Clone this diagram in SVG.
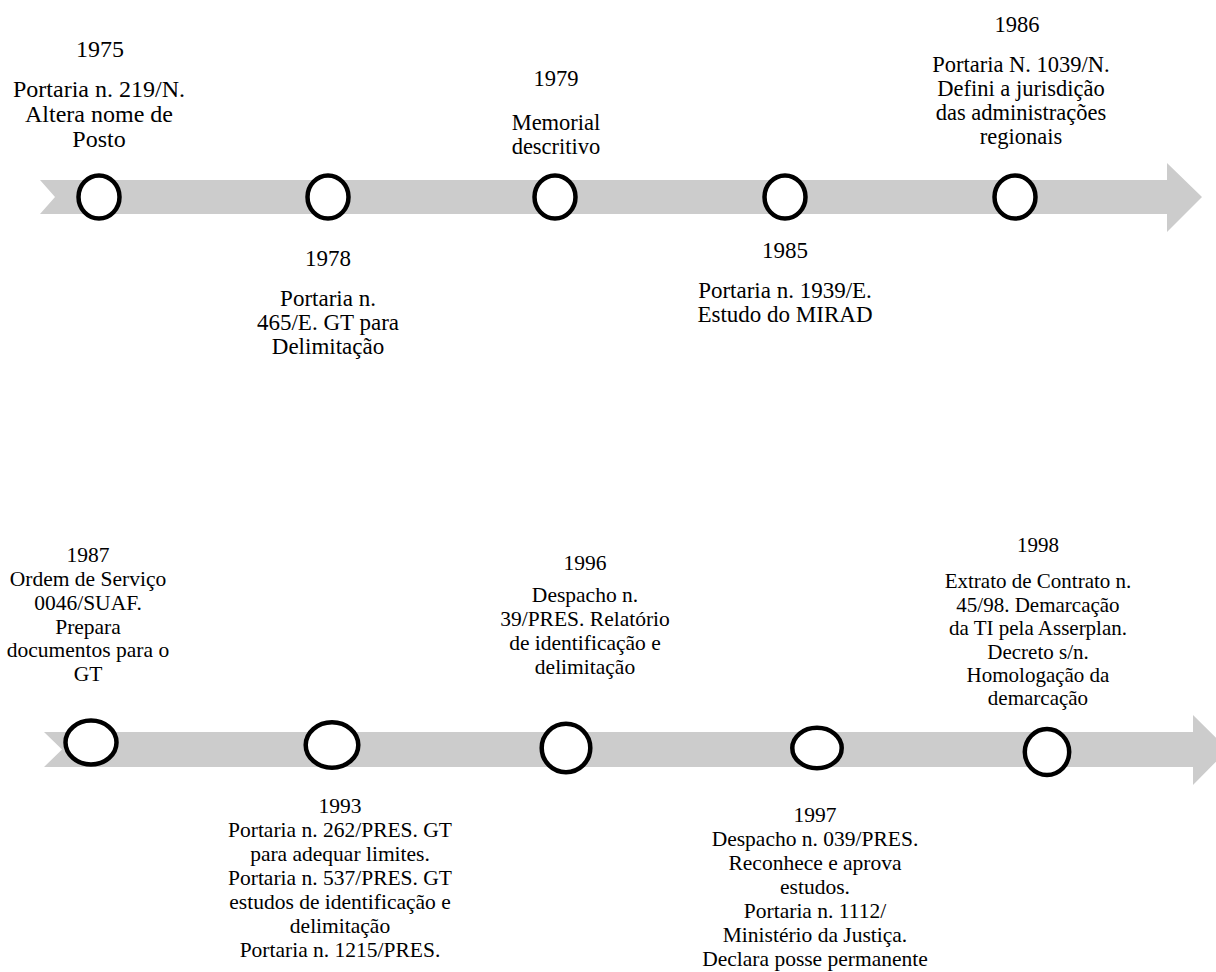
<svg xmlns="http://www.w3.org/2000/svg" width="1216" height="972" viewBox="0 0 1216 972">
<style>
.band{fill:#cccccc;stroke:none}
.node ellipse{fill:#ffffff;stroke:#000000;stroke-width:4.5}
text{fill:#000000;text-anchor:middle}
</style>
<rect width="1216" height="972" fill="#ffffff"/>
<g id="connectors">
<path class="band" d="M40,180 L1167,180 L1167,163 L1202,197 L1167,232 L1167,214 L40,214 L55,197 Z"/>
<path class="band" d="M44,732 L1193,732 L1193,715 L1228,749.5 L1193,785 L1193,767 L44,767 L62,749.5 Z"/>
</g>
<g id="n1975" class="node">
<ellipse cx="99" cy="197" rx="20.5" ry="21.5"/>
<text font-size="24" font-family="Liberation Serif" x="100" y="57">1975</text>
<text font-size="24" font-family="Liberation Serif" x="99" y="97">Portaria n. 219/N.</text>
<text font-size="24" font-family="Liberation Serif" x="99" y="122">Altera nome de</text>
<text font-size="24" font-family="Liberation Serif" x="99" y="147">Posto</text>
</g>
<g id="n1978" class="node">
<ellipse cx="328" cy="197" rx="20.5" ry="21.5"/>
<text font-size="23" font-family="Liberation Serif" x="328" y="266">1978</text>
<text font-size="23" font-family="Liberation Serif" x="328" y="306">Portaria n.</text>
<text font-size="23" font-family="Liberation Serif" x="328" y="330">465/E. GT para</text>
<text font-size="23" font-family="Liberation Serif" x="328" y="354">Delimitação</text>
</g>
<g id="n1979" class="node">
<ellipse cx="555" cy="197" rx="20.5" ry="21.5"/>
<text font-size="22.5" font-family="Liberation Serif" x="556" y="86">1979</text>
<text font-size="22.5" font-family="Liberation Serif" x="556" y="130">Memorial</text>
<text font-size="22.5" font-family="Liberation Serif" x="556" y="154">descritivo</text>
</g>
<g id="n1985" class="node">
<ellipse cx="785" cy="197" rx="20.5" ry="21.5"/>
<text font-size="23" font-family="Liberation Serif" x="785" y="258">1985</text>
<text font-size="23" font-family="Liberation Serif" x="785" y="298">Portaria n. 1939/E.</text>
<text font-size="23" font-family="Liberation Serif" x="785" y="322">Estudo do MIRAD</text>
</g>
<g id="n1986" class="node">
<ellipse cx="1015" cy="197" rx="20.5" ry="21.5"/>
<text font-size="22.5" font-family="Liberation Serif" x="1017" y="32">1986</text>
<text font-size="22.5" font-family="Liberation Serif" x="1021" y="72">Portaria N. 1039/N.</text>
<text font-size="22.5" font-family="Liberation Serif" x="1021" y="96">Defini a jurisdição</text>
<text font-size="22.5" font-family="Liberation Serif" x="1021" y="120">das administrações</text>
<text font-size="22.5" font-family="Liberation Serif" x="1021" y="144">regionais</text>
</g>
<g id="n1987" class="node">
<ellipse cx="91" cy="742.5" rx="25.5" ry="22"/>
<text font-size="21.5" font-family="Liberation Serif" x="88" y="562">1987</text>
<text font-size="21.5" font-family="Liberation Serif" x="88" y="586">Ordem de Serviço</text>
<text font-size="21.5" font-family="Liberation Serif" x="88" y="610">0046/SUAF.</text>
<text font-size="21.5" font-family="Liberation Serif" x="88" y="634">Prepara</text>
<text font-size="21.5" font-family="Liberation Serif" x="88" y="657">documentos para o</text>
<text font-size="21.5" font-family="Liberation Serif" x="88" y="681">GT</text>
</g>
<g id="n1993" class="node">
<ellipse cx="332" cy="745" rx="26.3" ry="22.7"/>
<text font-size="21.5" font-family="Liberation Serif" x="340" y="813">1993</text>
<text font-size="21.5" font-family="Liberation Serif" x="340" y="837">Portaria n. 262/PRES. GT</text>
<text font-size="21.5" font-family="Liberation Serif" x="340" y="861">para adequar limites.</text>
<text font-size="21.5" font-family="Liberation Serif" x="340" y="885">Portaria n. 537/PRES. GT</text>
<text font-size="21.5" font-family="Liberation Serif" x="340" y="909">estudos de identificação e</text>
<text font-size="21.5" font-family="Liberation Serif" x="340" y="933">delimitação</text>
<text font-size="21.5" font-family="Liberation Serif" x="340" y="957">Portaria n. 1215/PRES.</text>
</g>
<g id="n1996" class="node">
<ellipse cx="566" cy="748" rx="24.3" ry="24.2"/>
<text font-size="21.5" font-family="Liberation Serif" x="585" y="570">1996</text>
<text font-size="21.5" font-family="Liberation Serif" x="585" y="602">Despacho n.</text>
<text font-size="21.5" font-family="Liberation Serif" x="585" y="626">39/PRES. Relatório</text>
<text font-size="21.5" font-family="Liberation Serif" x="585" y="650">de identificação e</text>
<text font-size="21.5" font-family="Liberation Serif" x="585" y="674">delimitação</text>
</g>
<g id="n1997" class="node">
<ellipse cx="817" cy="748" rx="24.7" ry="20.3"/>
<text font-size="21.5" font-family="Liberation Serif" x="815" y="822">1997</text>
<text font-size="21.5" font-family="Liberation Serif" x="815" y="846">Despacho n. 039/PRES.</text>
<text font-size="21.5" font-family="Liberation Serif" x="815" y="870">Reconhece e aprova</text>
<text font-size="21.5" font-family="Liberation Serif" x="815" y="894">estudos.</text>
<text font-size="21.5" font-family="Liberation Serif" x="815" y="918">Portaria n. 1112/</text>
<text font-size="21.5" font-family="Liberation Serif" x="815" y="942">Ministério da Justiça.</text>
<text font-size="21.5" font-family="Liberation Serif" x="815" y="966">Declara posse permanente</text>
</g>
<g id="n1998" class="node">
<ellipse cx="1047" cy="752" rx="22.2" ry="23"/>
<text font-size="21" font-family="Liberation Serif" x="1038" y="552">1998</text>
<text font-size="21" font-family="Liberation Serif" x="1038" y="588">Extrato de Contrato n.</text>
<text font-size="21" font-family="Liberation Serif" x="1038" y="612">45/98. Demarcação</text>
<text font-size="21" font-family="Liberation Serif" x="1038" y="635">da TI pela Asserplan.</text>
<text font-size="21" font-family="Liberation Serif" x="1038" y="659">Decreto s/n.</text>
<text font-size="21" font-family="Liberation Serif" x="1038" y="682">Homologação da</text>
<text font-size="21" font-family="Liberation Serif" x="1038" y="705">demarcação</text>
</g>
</svg>
